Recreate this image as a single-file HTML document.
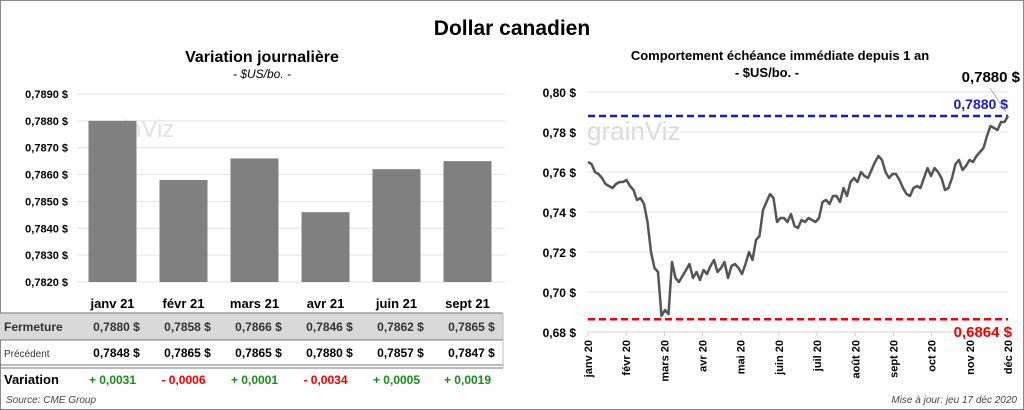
<!DOCTYPE html>
<html><head><meta charset="utf-8">
<style>
body{margin:0;background:#fff;}
svg{display:block;font-family:"Liberation Sans",Arial,sans-serif;}
</style></head>
<body>
<svg id="c" width="1024" height="410" viewBox="0 0 1024 410" xmlns="http://www.w3.org/2000/svg">
<rect x="0.5" y="0.5" width="1023" height="409" fill="#fff" stroke="#888"/>
<text x="512" y="35" text-anchor="middle" font-size="21" font-weight="bold">Dollar canadien</text>
<text x="262" y="62" text-anchor="middle" font-size="16" font-weight="bold">Variation  journalière</text>
<text x="262" y="78" text-anchor="middle" font-size="12" font-style="italic">- $US/bo. -</text>
<text x="780" y="60" text-anchor="middle" font-size="13" font-weight="bold">Comportement échéance immédiate depuis 1 an</text>
<text x="767" y="77" text-anchor="middle" font-size="13" font-weight="bold">- $US/bo. -</text>
<text x="88" y="137" font-size="24" fill="#e2e2e2">grainViz</text>
<text x="587" y="140" font-size="26" fill="#dadada">grainViz</text>
<g id="bars"></g>
<g id="tbl"></g>
<g id="line"></g>
<text x="6" y="403" font-size="10" font-style="italic" fill="#444">Source: CME Group</text>
<text x="1017" y="403" text-anchor="end" font-size="10" font-style="italic" fill="#444">Mise à jour: jeu 17 déc 2020</text>
</svg>
<script>
const NS="http://www.w3.org/2000/svg";
function mk(p,t,a,txt){const e=document.createElementNS(NS,t);for(const k in a)e.setAttribute(k,a[k]);if(txt!==undefined)e.textContent=txt;p.appendChild(e);return e;}

// Bar chart data
const barCats=["janv 21","févr 21","mars 21","avr 21","juin 21","sept 21"];
const barVals=[0.7880,0.7858,0.7866,0.7846,0.7862,0.7865];
const barTicks=[0.7820,0.7830,0.7840,0.7850,0.7860,0.7870,0.7880,0.7890];
const prevVals=[0.7848,0.7865,0.7865,0.7880,0.7857,0.7847];
const varVals=[0.0031,-0.0006,0.0001,-0.0034,0.0005,0.0019];

const bg=document.getElementById('bars');
const by=v=>282-(v-0.782)/0.007*188;
const bx=i=>112.5+i*71;
barTicks.forEach(t=>{
  const l=mk(bg,'line',{x1:77,x2:505,y1:by(t),y2:by(t),stroke:'#e3e3e3'});
  
  
  const tx=mk(bg,'text',{x:68,y:by(t)+4,'text-anchor':'end','font-size':11,'font-weight':'bold'},t.toFixed(4).replace('.',',')+' $');
  
  
});
barVals.forEach((v,i)=>{
  const r=mk(bg,'rect',{x:bx(i)-24,y:by(v),width:48,height:282-by(v),fill:'#808080'});
  
  
});

// Table
const tg=document.getElementById('tbl');
const fmt=v=>v.toFixed(4).replace('.',',');
mk(tg,'rect',{x:0,y:313,width:503,height:27,fill:'#d9d9d9'});
mk(tg,'line',{x1:0,x2:503,y1:313,y2:313,stroke:'#777'});
mk(tg,'line',{x1:0,x2:503,y1:340,y2:340,stroke:'#777'});
mk(tg,'line',{x1:0,x2:503,y1:365,y2:365,stroke:'#777'});
mk(tg,'line',{x1:0,x2:503,y1:368,y2:368,stroke:'#777'});
mk(tg,'line',{x1:503,x2:503,y1:313,y2:368,stroke:'#bbb'});
const l1=mk(tg,'text',{x:4,y:331,'font-size':12,'font-weight':'bold',fill:'#333'},'Fermeture');


const l2=mk(tg,'text',{x:4,y:357,'font-size':10,fill:'#333'},'Précédent');


const l3=mk(tg,'text',{x:4,y:384,'font-size':13,'font-weight':'bold'},'Variation');


barCats.forEach((c,i)=>{
  const x=bx(i);
  const h=mk(tg,'text',{x:x,y:308,'text-anchor':'middle','font-size':13,'font-weight':'bold'},c);
  
  
  const a=mk(tg,'text',{x:x+4,y:331,'text-anchor':'middle','font-size':12,'font-weight':'bold',fill:'#333'},fmt(barVals[i])+'  $');
  
  
  const b=mk(tg,'text',{x:x+4,y:357,'text-anchor':'middle','font-size':12,'font-weight':'bold'},fmt(prevVals[i])+'  $');
  
  
  const d=varVals[i];
  const s=(d>=0?'+ ':'- ')+fmt(Math.abs(d));
  const v=mk(tg,'text',{x:x,y:384,'text-anchor':'middle','font-size':12,'font-weight':'bold',fill:d>=0?'#1a8a1a':'#f00000'},s);
  
  
});

// Line chart data
const monthLabels=["janv 20","févr 20","mars 20","avr 20","mai 20","juin 20","juil 20","août 20","sept 20","oct 20","nov 20","déc 20"];
const yTicks=[0.68,0.70,0.72,0.74,0.76,0.78,0.80];
const series=[0.765,0.764,0.760,0.759,0.757,0.754,0.753,0.752,0.754,0.755,0.755,0.756,0.753,0.751,0.746,0.747,0.744,0.735,0.720,0.712,0.710,0.688,0.691,0.689,0.715,0.707,0.705,0.708,0.711,0.714,0.707,0.710,0.706,0.711,0.709,0.713,0.716,0.710,0.712,0.715,0.707,0.713,0.714,0.712,0.709,0.714,0.720,0.716,0.726,0.728,0.741,0.745,0.749,0.747,0.735,0.737,0.737,0.735,0.739,0.733,0.732,0.736,0.735,0.737,0.736,0.735,0.737,0.745,0.746,0.744,0.748,0.748,0.745,0.752,0.748,0.755,0.757,0.755,0.760,0.758,0.757,0.761,0.765,0.768,0.766,0.760,0.757,0.759,0.759,0.756,0.752,0.749,0.748,0.752,0.753,0.752,0.757,0.762,0.758,0.762,0.760,0.757,0.751,0.752,0.757,0.764,0.766,0.761,0.763,0.766,0.765,0.768,0.770,0.772,0.778,0.783,0.782,0.781,0.785,0.785,0.788];
const highVal=0.7880, lowVal=0.6864;

const lg=document.getElementById('line');
const X0=588,X1=1008;
const ly=v=>332-(v-0.68)/0.12*240;
const lx=i=>X0+(X1-X0)*i/(series.length-1);
yTicks.forEach(t=>{
  const l=mk(lg,'line',{x1:X0,x2:X1,y1:ly(t),y2:ly(t),stroke:t===0.68?'#d0d0d0':'#e6e6e6'});
  
  
  const tx=mk(lg,'text',{x:576,y:ly(t)+5,'text-anchor':'end','font-size':12,'font-weight':'bold'},t.toFixed(2).replace('.',',')+' $');
  
  
});
monthLabels.forEach((m,i)=>{
  const x=X0+(X1-X0)*i/11;
  mk(lg,'line',{x1:x,x2:x,y1:332,y2:336,stroke:'#ccc'});
  const tx=mk(lg,'text',{x:0,y:0,'text-anchor':'end','font-size':11,'font-weight':'bold',transform:`translate(${x+4},340) rotate(-90)`},m);
  
  
});
const hi=mk(lg,'line',{x1:X0,x2:X1,y1:ly(highVal),y2:ly(highVal),stroke:'#1a1acc','stroke-width':2.5,'stroke-dasharray':'7,4'});


const lo=mk(lg,'line',{x1:X0,x2:X1,y1:ly(lowVal),y2:ly(lowVal),stroke:'#f00000','stroke-width':2.5,'stroke-dasharray':'7,4'});


const p=mk(lg,'polyline',{points:series.map((v,i)=>lx(i)+','+ly(v)).join(' '),fill:'none',stroke:'#555','stroke-width':2.5,'stroke-linejoin':'round'});


const hl=mk(lg,'text',{x:1008,y:ly(highVal)-7,'text-anchor':'end','font-size':14,'font-weight':'bold',fill:'#1a1acc'},fmt(highVal)+' $');


const ll=mk(lg,'text',{x:1012,y:ly(lowVal)+18,'text-anchor':'end','font-size':15,'font-weight':'bold',fill:'#f00000'},fmt(lowVal)+' $');


mk(lg,'line',{x1:990,y1:88,x2:1006,y2:112,stroke:'#999','stroke-width':0.7});
const cl=mk(lg,'text',{x:1020,y:82,'text-anchor':'end','font-size':15,'font-weight':'bold'},fmt(series[series.length-1])+' $');


</script>
</body></html>
